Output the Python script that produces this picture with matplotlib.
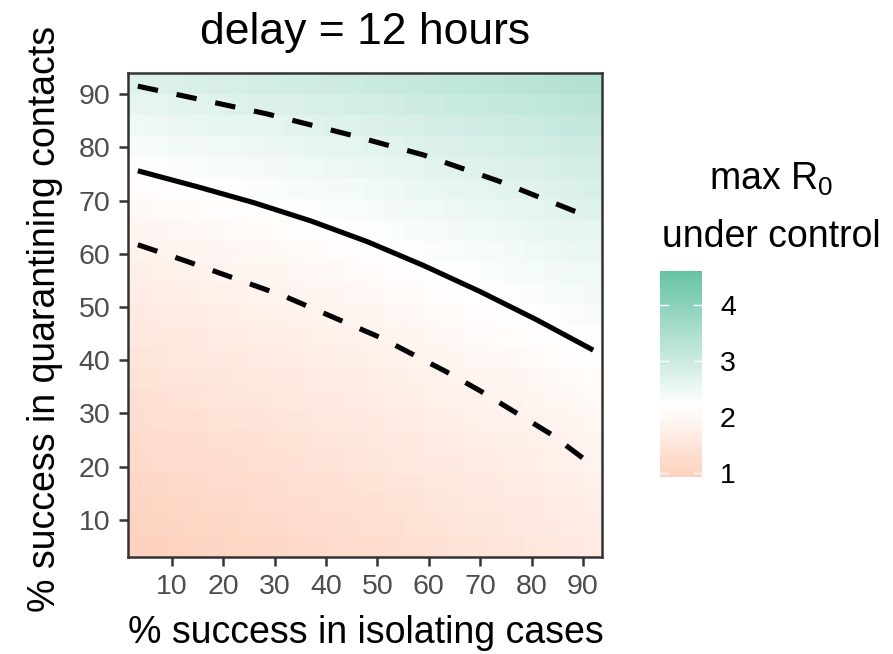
import matplotlib
matplotlib.use("Agg")
import matplotlib.pyplot as plt
from matplotlib.colors import LinearSegmentedColormap, Normalize

plt.rcParams['font.family'] = ['Liberation Sans', 'DejaVu Sans']
plt.rcParams['mathtext.fontset'] = 'custom'
plt.rcParams['mathtext.rm'] = 'Liberation Sans'
plt.rcParams['mathtext.it'] = 'Liberation Sans:italic'

# % success in isolating cases (tile centres)
isolation = [3.4, 7.2, 11.1, 14.9, 18.8, 22.6, 26.5, 30.3, 34.1, 38.0, 41.8, 45.7,
             49.5, 53.4, 57.2, 61.0, 64.9, 68.7, 72.6, 76.4, 80.3, 84.1, 87.9, 91.8]
# % success in quarantining contacts (tile centres)
quarantine = [5.0, 9.0, 12.9, 16.9, 20.8, 24.8, 28.7, 32.7, 36.6, 40.6, 44.5, 48.5,
              52.5, 56.4, 60.4, 64.3, 68.3, 72.2, 76.2, 80.1, 84.1, 88.0, 92.0]

# max R0 under control, one row per quarantine level (bottom to top)
max_r0 = [
    [0.97, 0.99, 1.02, 1.04, 1.07, 1.09, 1.12, 1.14, 1.17, 1.20, 1.23, 1.25, 1.28, 1.32, 1.35, 1.39, 1.42, 1.45, 1.48, 1.51, 1.54, 1.58, 1.61, 1.65],
    [1.02, 1.04, 1.07, 1.09, 1.12, 1.14, 1.17, 1.19, 1.22, 1.25, 1.28, 1.30, 1.33, 1.37, 1.40, 1.44, 1.47, 1.50, 1.53, 1.56, 1.59, 1.63, 1.66, 1.70],
    [1.07, 1.09, 1.12, 1.14, 1.17, 1.19, 1.22, 1.24, 1.27, 1.30, 1.33, 1.35, 1.38, 1.42, 1.45, 1.49, 1.52, 1.55, 1.58, 1.61, 1.64, 1.68, 1.71, 1.75],
    [1.13, 1.15, 1.18, 1.20, 1.23, 1.25, 1.28, 1.30, 1.33, 1.36, 1.39, 1.41, 1.44, 1.48, 1.51, 1.55, 1.58, 1.61, 1.64, 1.67, 1.70, 1.74, 1.77, 1.81],
    [1.19, 1.21, 1.24, 1.26, 1.29, 1.31, 1.34, 1.36, 1.39, 1.42, 1.45, 1.47, 1.50, 1.54, 1.57, 1.61, 1.64, 1.67, 1.70, 1.73, 1.76, 1.80, 1.83, 1.87],
    [1.24, 1.26, 1.29, 1.31, 1.34, 1.36, 1.39, 1.41, 1.44, 1.47, 1.50, 1.52, 1.55, 1.59, 1.62, 1.66, 1.69, 1.72, 1.75, 1.78, 1.81, 1.85, 1.88, 1.92],
    [1.31, 1.33, 1.36, 1.38, 1.41, 1.43, 1.46, 1.48, 1.51, 1.54, 1.57, 1.59, 1.62, 1.66, 1.69, 1.73, 1.76, 1.79, 1.82, 1.85, 1.88, 1.92, 1.95, 1.99],
    [1.37, 1.39, 1.42, 1.44, 1.47, 1.49, 1.52, 1.54, 1.57, 1.60, 1.63, 1.65, 1.68, 1.72, 1.75, 1.79, 1.82, 1.85, 1.88, 1.91, 1.94, 1.98, 2.01, 2.05],
    [1.43, 1.45, 1.48, 1.50, 1.53, 1.55, 1.58, 1.60, 1.63, 1.66, 1.69, 1.71, 1.74, 1.78, 1.81, 1.85, 1.88, 1.91, 1.94, 1.97, 2.00, 2.04, 2.07, 2.11],
    [1.50, 1.52, 1.55, 1.57, 1.60, 1.62, 1.65, 1.67, 1.70, 1.73, 1.76, 1.78, 1.81, 1.85, 1.88, 1.92, 1.95, 1.98, 2.01, 2.04, 2.07, 2.11, 2.14, 2.18],
    [1.57, 1.59, 1.62, 1.64, 1.67, 1.69, 1.72, 1.74, 1.77, 1.80, 1.83, 1.85, 1.88, 1.92, 1.95, 1.99, 2.02, 2.05, 2.08, 2.11, 2.14, 2.18, 2.21, 2.25],
    [1.64, 1.66, 1.69, 1.71, 1.74, 1.76, 1.79, 1.81, 1.84, 1.87, 1.90, 1.92, 1.95, 1.99, 2.02, 2.06, 2.09, 2.12, 2.15, 2.18, 2.21, 2.25, 2.28, 2.32],
    [1.71, 1.73, 1.76, 1.78, 1.81, 1.83, 1.86, 1.88, 1.91, 1.94, 1.97, 1.99, 2.02, 2.06, 2.09, 2.13, 2.16, 2.19, 2.22, 2.25, 2.28, 2.32, 2.35, 2.39],
    [1.78, 1.80, 1.83, 1.85, 1.88, 1.90, 1.93, 1.95, 1.98, 2.01, 2.04, 2.06, 2.09, 2.13, 2.16, 2.20, 2.23, 2.26, 2.29, 2.32, 2.35, 2.39, 2.42, 2.46],
    [1.86, 1.88, 1.91, 1.93, 1.96, 1.98, 2.01, 2.03, 2.06, 2.09, 2.12, 2.14, 2.17, 2.21, 2.24, 2.28, 2.31, 2.34, 2.37, 2.40, 2.43, 2.47, 2.50, 2.54],
    [1.94, 1.96, 1.99, 2.01, 2.04, 2.06, 2.09, 2.11, 2.14, 2.17, 2.20, 2.22, 2.25, 2.29, 2.32, 2.36, 2.39, 2.42, 2.45, 2.48, 2.51, 2.55, 2.58, 2.62],
    [2.03, 2.05, 2.08, 2.10, 2.13, 2.15, 2.18, 2.20, 2.23, 2.26, 2.29, 2.31, 2.34, 2.38, 2.41, 2.45, 2.48, 2.51, 2.54, 2.57, 2.60, 2.64, 2.67, 2.71],
    [2.12, 2.14, 2.17, 2.19, 2.22, 2.24, 2.27, 2.29, 2.32, 2.35, 2.38, 2.40, 2.43, 2.47, 2.50, 2.54, 2.57, 2.60, 2.63, 2.66, 2.69, 2.73, 2.76, 2.80],
    [2.22, 2.24, 2.27, 2.29, 2.32, 2.34, 2.37, 2.39, 2.42, 2.45, 2.48, 2.50, 2.53, 2.57, 2.60, 2.64, 2.67, 2.70, 2.73, 2.76, 2.79, 2.83, 2.86, 2.90],
    [2.33, 2.35, 2.38, 2.40, 2.43, 2.45, 2.48, 2.50, 2.53, 2.56, 2.59, 2.61, 2.64, 2.68, 2.71, 2.75, 2.78, 2.81, 2.84, 2.87, 2.90, 2.94, 2.97, 3.01],
    [2.45, 2.47, 2.50, 2.52, 2.55, 2.57, 2.60, 2.62, 2.65, 2.68, 2.71, 2.73, 2.76, 2.80, 2.83, 2.87, 2.90, 2.93, 2.96, 2.99, 3.02, 3.06, 3.09, 3.13],
    [2.59, 2.61, 2.64, 2.66, 2.69, 2.71, 2.74, 2.76, 2.79, 2.82, 2.85, 2.87, 2.90, 2.94, 2.97, 3.01, 3.04, 3.07, 3.10, 3.13, 3.16, 3.20, 3.23, 3.27],
    [2.73, 2.75, 2.78, 2.80, 2.83, 2.85, 2.88, 2.90, 2.93, 2.96, 2.99, 3.01, 3.04, 3.08, 3.11, 3.15, 3.18, 3.21, 3.24, 3.27, 3.30, 3.34, 3.37, 3.41],
]

# threshold curves (solid = central estimate, dashed = bounds)
solid_x = [3.4, 15.0, 26.0, 37.0, 48.0, 59.0, 70.0, 81.0, 92.0]
solid_y = [75.6, 72.6, 69.6, 66.2, 62.3, 57.8, 52.9, 47.6, 41.9]
upper_x = [3.4, 13.1, 28.5, 43.7, 58.9, 73.8, 88.4, 92.0]
upper_y = [91.5, 89.5, 86.3, 82.6, 78.6, 73.6, 68.0, 66.8]
lower_x = [3.4, 12.9, 32.0, 50.5, 56.5, 63.3, 70.1, 77.2, 83.8, 90.0, 91.8]
lower_y = [61.7, 58.6, 52.0, 44.3, 41.3, 37.9, 34.2, 30.0, 26.1, 21.6, 20.5]

r0_min, r0_mid, r0_max = 0.92, 2.2, 4.61
cmap = LinearSegmentedColormap.from_list(
    'r0', [(0.0, '#fed0bc'),
           ((r0_mid - r0_min) / (r0_max - r0_min), '#ffffff'),
           (1.0, '#66c2a5')])
norm = Normalize(r0_min, r0_max)

fig = plt.figure(figsize=(8.93, 6.54), dpi=100)
ax = fig.add_axes([0.1433, 0.1483, 0.5308, 0.7401])

mesh = ax.pcolormesh(isolation, quarantine, max_r0, shading='nearest',
                     cmap=cmap, norm=norm, linewidth=0, antialiased=False)
ax.plot(solid_x, solid_y, color='black', lw=3.7, solid_capstyle='butt',
        solid_joinstyle='round')
ax.plot(upper_x, upper_y, color='black', lw=3.7, dashes=(4.0, 3.7))
ax.plot(lower_x, lower_y, color='black', lw=3.7, dashes=(4.0, 3.7))

ax.set_xlim(1.48, 93.71)
ax.set_ylim(3.02, 93.98)
ax.set_xticks(range(10, 100, 10))
ax.set_yticks(range(10, 100, 10))
ax.tick_params(direction='out', length=6.5, width=1.8, color='#333333',
               labelsize=20.5, labelcolor='#4d4d4d', pad=6)
for s in ax.spines.values():
    s.set_linewidth(1.8)
    s.set_color('#333333')

fig.text(0.4087, 1 - 44 / 654, 'delay = 12 hours', fontsize=32,
         ha='center', va='baseline')
fig.text(0.41, 1 - 643 / 654, '% success in isolating cases', fontsize=27,
         ha='center', va='baseline')
fig.text(45 / 893, 1 - 318.5 / 654, '% success in quarantining contacts',
         fontsize=27, rotation=90, ha='center', va='center')

# colour bar
cax = fig.add_axes([0.7391, 0.2706, 0.047, 0.315])
cb = fig.colorbar(mesh, cax=cax, ticks=[1, 2, 3, 4])
cb.outline.set_visible(False)
cax.tick_params(length=0, labelsize=20.5, pad=13, labelcolor='black')
for v in [1, 2, 3, 4]:
    cax.axhline(v, xmin=0, xmax=0.2, color='white', lw=1)
    cax.axhline(v, xmin=0.8, xmax=1, color='white', lw=1)

fig.text(771 / 893, 1 - 190 / 654, 'max R$_0$', fontsize=27,
         ha='center', va='baseline')
fig.text(771 / 893, 1 - 247 / 654, 'under control', fontsize=27,
         ha='center', va='baseline')

fig.savefig('out.png', dpi=100)
